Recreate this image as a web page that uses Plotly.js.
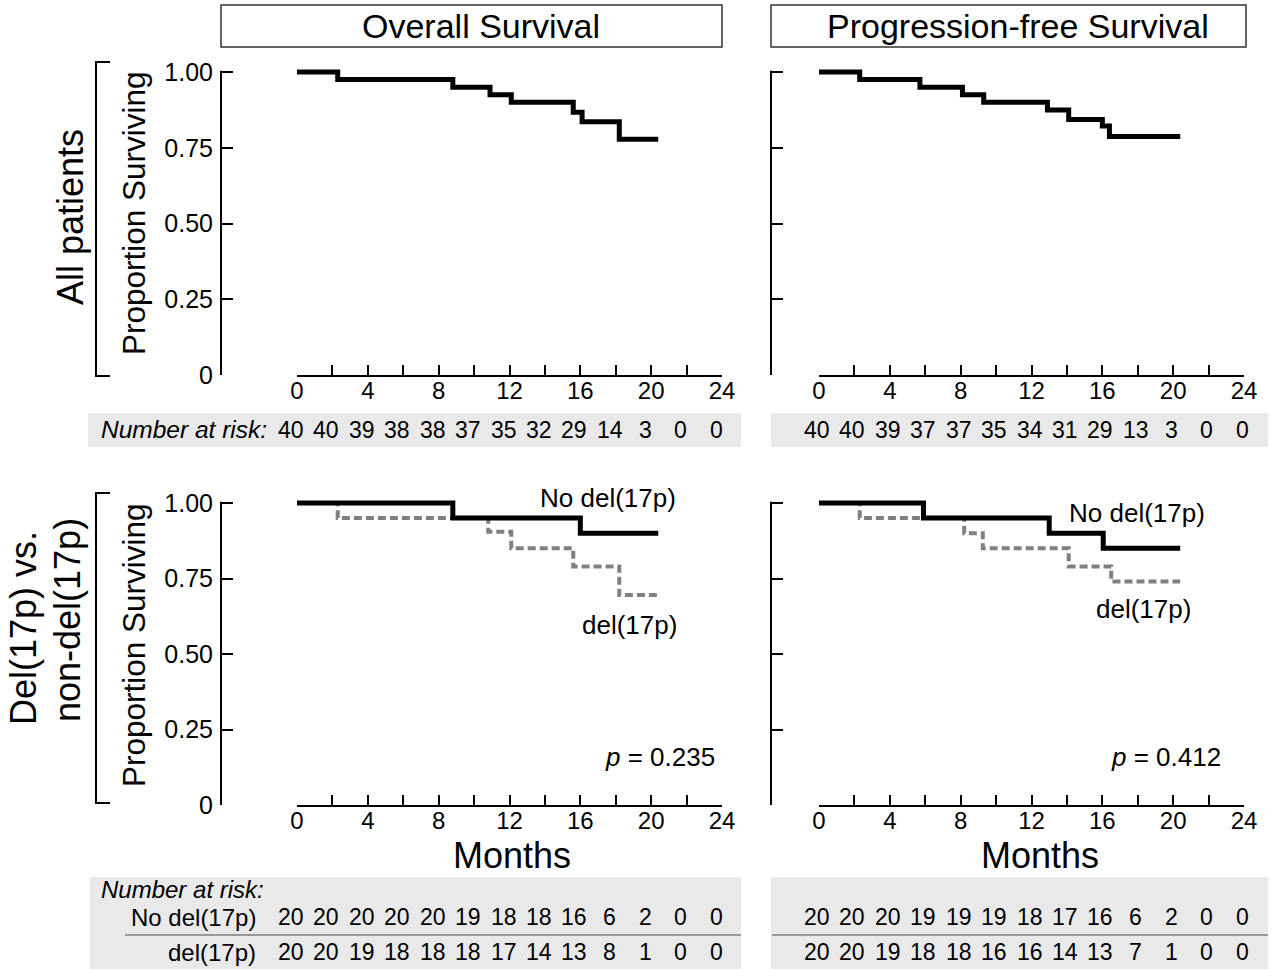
<!DOCTYPE html>
<html>
<head>
<meta charset="utf-8">
<script src="https://cdn.plot.ly/plotly-3.0.1.min.js"></script>
<style>html,body{margin:0;padding:0;background:#fff;}#chart{width:1274px;height:971px;}</style>
</head>
<body>
<div id="chart"></div>
<script>
// ---------- data ----------
const monthTicks = [0,2,4,6,8,10,12,14,16,18,20,22,24];
const monthTickText = ['0','','4','','8','','12','','16','','20','','24'];
const survTicks = [0,0.25,0.5,0.75,1];
const survTickText = ['0','0.25','0.50','0.75','1.00'];

// Overall survival, all patients
const osAllTime = [0, 2.3, 8.8, 10.9, 12.1, 15.6, 16.1, 18.2, 20.4];
const osAllSurv = [1.0, 0.975, 0.95, 0.925, 0.90, 0.867, 0.836, 0.778, 0.778];
// Progression-free survival, all patients
const pfsAllTime = [0, 2.3, 5.7, 8.1, 9.3, 12.9, 14.1, 16.0, 16.4, 20.4];
const pfsAllSurv = [1.0, 0.975, 0.95, 0.925, 0.90, 0.875, 0.843, 0.822, 0.787, 0.787];
// OS by del(17p)
const osNoDelTime = [0, 8.8, 16.0, 20.4];
const osNoDelSurv = [1.0, 0.95, 0.90, 0.90];
const osDelTime = [0, 2.3, 10.8, 12.1, 15.6, 18.2, 20.4];
const osDelSurv = [1.0, 0.95, 0.905, 0.85, 0.79, 0.695, 0.695];
// PFS by del(17p)
const pfsNoDelTime = [0, 5.9, 13.0, 16.05, 20.4];
const pfsNoDelSurv = [1.0, 0.95, 0.90, 0.85, 0.85];
const pfsDelTime = [0, 2.3, 8.2, 9.25, 14.1, 16.5, 20.4];
const pfsDelSurv = [1.0, 0.95, 0.90, 0.85, 0.79, 0.74, 0.74];

// number at risk
const riskOsAll  = [40,40,39,38,38,37,35,32,29,14,3,0,0];
const riskPfsAll = [40,40,39,37,37,35,34,31,29,13,3,0,0];
const riskOsNo   = [20,20,20,20,20,19,18,18,16,6,2,0,0];
const riskOsDel  = [20,20,19,18,18,18,17,14,13,8,1,0,0];
const riskPfsNo  = [20,20,20,19,19,19,18,17,16,6,2,0,0];
const riskPfsDel = [20,20,19,18,18,16,16,14,13,7,1,0,0];

const pValueOS = '0.235';
const pValuePFS = '0.412';

// ---------- layout helpers ----------
const W = 1274, H = 971;
const px = x => x / W;
const py = y => 1 - y / H;
const FONT = 'Liberation Sans, Arial, Helvetica, sans-serif';
const YMAX = 1.03;

function xAxis(l, r, anchor) {
  return {domain:[px(l), px(r)], anchor:anchor, range:[0,24], tickmode:'array',
    tickvals:monthTicks, ticktext:monthTickText, ticks:'inside', ticklen:10, tickwidth:2,
    tickcolor:'#000', showline:true, linewidth:2, linecolor:'#000', showgrid:false,
    zeroline:false, ticklabelstandoff:-7,
    tickfont:{family:FONT, size:24, color:'#000'}, fixedrange:true};
}
function yAxis(bottom, span, xpos, labels) {
  return {domain:[py(bottom), py(bottom - YMAX*span)], anchor:'free', position:px(xpos),
    range:[0,YMAX], tickmode:'array', tickvals:survTicks, ticktext:survTickText,
    ticks:'inside', ticklen:11, tickwidth:2, tickcolor:'#000', showline:false,
    showgrid:false, zeroline:false, showticklabels:labels, ticklabelstandoff:8,
    tickfont:{family:FONT, size:25, color:'#000'}, fixedrange:true};
}

const blackLine = {color:'#000', width:5, shape:'hv'};
const grayLine = {color:'#808080', width:4, shape:'hv', dash:'8px,4px'};

const traces = [
  {x:osAllTime, y:osAllSurv, xaxis:'x', yaxis:'y', mode:'lines', line:blackLine},
  {x:pfsAllTime, y:pfsAllSurv, xaxis:'x2', yaxis:'y2', mode:'lines', line:blackLine},
  {x:osDelTime, y:osDelSurv, xaxis:'x3', yaxis:'y3', mode:'lines', line:grayLine},
  {x:osNoDelTime, y:osNoDelSurv, xaxis:'x3', yaxis:'y3', mode:'lines', line:blackLine},
  {x:pfsDelTime, y:pfsDelSurv, xaxis:'x4', yaxis:'y4', mode:'lines', line:grayLine},
  {x:pfsNoDelTime, y:pfsNoDelSurv, xaxis:'x4', yaxis:'y4', mode:'lines', line:blackLine}
];

const shapes = [];
const annotations = [];

function txt(text, x, y, size, opts) {
  annotations.push(Object.assign({text:text, x:x, y:y, xref:'paper', yref:'paper',
    showarrow:false, font:{family:FONT, size:size, color:'#000'},
    xanchor:'center', yanchor:'middle'}, opts || {}));
}

// title boxes
shapes.push({type:'rect', xref:'paper', yref:'paper', x0:px(221), x1:px(722), y0:py(47), y1:py(5), line:{color:'#333', width:1.5}});
shapes.push({type:'rect', xref:'paper', yref:'paper', x0:px(771), x1:px(1246), y0:py(47), y1:py(5), line:{color:'#333', width:1.5}});
txt('Overall Survival', px(481), py(26), 34);
txt('Progression-free Survival', px(1018), py(26), 34);

// y axis lines (range-frame style)
[['y',221],['y2',771],['y3',221],['y4',771]].forEach(([ya, xp]) => {
  shapes.push({type:'line', xref:'paper', yref:ya, x0:px(xp), x1:px(xp), y0:-0.004, y1:1.004, line:{color:'#000', width:2}});
});

// brackets
function bracket(top, bottom) {
  shapes.push({type:'path', xref:'paper', yref:'paper',
    path:`M ${px(110)},${py(top)} L ${px(96)},${py(top)} L ${px(96)},${py(bottom)} L ${px(110)},${py(bottom)}`,
    line:{color:'#000', width:2}});
}
bracket(62, 376);
bracket(493, 803);

// row labels
txt('All patients', px(70), py(217), 36, {textangle:-90});
txt('Proportion Surviving', px(134), py(213), 31.5, {textangle:-90});
txt('Del(17p) vs.', px(23), py(628), 36, {textangle:-90});
txt('non-del(17p)', px(67), py(620), 36, {textangle:-90});
txt('Proportion Surviving', px(134), py(645), 31.5, {textangle:-90});

// curve labels and p-values
txt('No del(17p)', px(608), py(498), 26);
txt('del(17p)', px(629), py(625), 26);
txt('<i>p</i> = ' + pValueOS, px(660), py(757), 26);
txt('No del(17p)', px(1137), py(513), 26);
txt('del(17p)', px(1143), py(609), 26);
txt('<i>p</i> = ' + pValuePFS, px(1166), py(757), 26);

// Months
txt('Months', px(512), py(855), 36);
txt('Months', px(1040), py(855), 36);

// risk tables backgrounds
shapes.push({type:'rect', xref:'paper', yref:'paper', layer:'below', x0:px(88), x1:px(741), y0:py(447), y1:py(413), fillcolor:'#e9e9e9', line:{width:0}});
shapes.push({type:'rect', xref:'paper', yref:'paper', layer:'below', x0:px(771), x1:px(1268), y0:py(447), y1:py(413), fillcolor:'#e9e9e9', line:{width:0}});
shapes.push({type:'rect', xref:'paper', yref:'paper', layer:'below', x0:px(90), x1:px(741), y0:py(969), y1:py(877), fillcolor:'#e9e9e9', line:{width:0}});
shapes.push({type:'rect', xref:'paper', yref:'paper', layer:'below', x0:px(771), x1:px(1268), y0:py(969), y1:py(877), fillcolor:'#e9e9e9', line:{width:0}});
shapes.push({type:'line', xref:'paper', yref:'paper', x0:px(125), x1:px(741), y0:py(935), y1:py(935), line:{color:'#999', width:2}});
shapes.push({type:'line', xref:'paper', yref:'paper', x0:px(772), x1:px(1268), y0:py(935), y1:py(935), line:{color:'#999', width:2}});

txt('<i>Number at risk:</i>', px(99), py(430), 24.5, {xanchor:'left'});
txt('<i>Number at risk:</i>', px(99), py(889), 24, {xanchor:'left'});
txt('No del(17p)', px(258), py(917), 24, {xanchor:'right'});
txt('del(17p)', px(258), py(952), 24, {xanchor:'right'});

function riskRow(values, xref, yPix, shift) {
  values.forEach((v, i) => {
    annotations.push({text:String(v), x:monthTicks[i], y:py(yPix), xref:xref, yref:'paper',
      xshift:shift, showarrow:false, xanchor:'center', yanchor:'middle',
      font:{family:FONT, size:23, color:'#000'}});
  });
}
riskRow(riskOsAll, 'x', 430, -6);
riskRow(riskPfsAll, 'x2', 430, -2);
riskRow(riskOsNo, 'x3', 917, -6);
riskRow(riskOsDel, 'x3', 952, -6);
riskRow(riskPfsNo, 'x4', 917, -2);
riskRow(riskPfsDel, 'x4', 952, -2);

const layout = {
  width:W, height:H, margin:{l:0, r:0, t:0, b:0}, showlegend:false,
  paper_bgcolor:'#fff', plot_bgcolor:'rgba(0,0,0,0)',
  font:{family:FONT, color:'#000'},
  xaxis:xAxis(297, 722, 'y'),
  yaxis:yAxis(375, 303, 221, true),
  xaxis2:xAxis(819, 1244, 'y2'),
  yaxis2:yAxis(375, 303, 771, false),
  xaxis3:xAxis(297, 722, 'y3'),
  yaxis3:yAxis(805, 302, 221, true),
  xaxis4:xAxis(819, 1244, 'y4'),
  yaxis4:yAxis(805, 302, 771, false),
  shapes:shapes, annotations:annotations
};

Plotly.newPlot('chart', traces, layout, {displayModeBar:false, staticPlot:true});
</script>
</body>
</html>
